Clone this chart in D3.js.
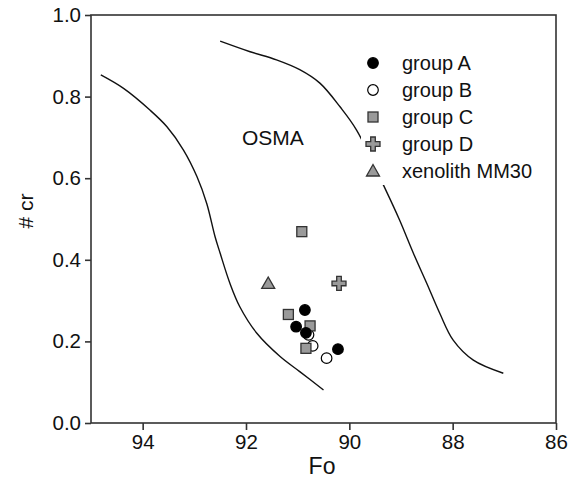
<!DOCTYPE html>
<html><head><meta charset="utf-8">
<script src="https://cdn.jsdelivr.net/npm/d3@7"></script>
<style>body{margin:0;background:#fff}svg{display:block;font-family:"Liberation Sans",Arial,Helvetica,sans-serif}</style>
</head><body><svg id="c" width="569" height="479"></svg>
<script>
// Data
const xTicks = [94, 92, 90, 88, 86];
const yTicks = [0, 0.2, 0.4, 0.6, 0.8, 1.0];
const groupA = [[90.86,0.277],[91.03,0.236],[90.84,0.221],[90.22,0.181]];
const groupB = [[90.79,0.216],[90.71,0.189],[90.44,0.159]];
const groupC = [[91.18,0.266],[90.76,0.238],[90.84,0.183],[90.92,0.469]];
const groupD = [[90.20,0.342]];
const xenolith = [[91.57,0.342]];
const curveLeft = [[94.81,0.853],[94.37,0.820],[93.86,0.767],[93.53,0.726],[93.21,0.669],[92.95,0.604],[92.76,0.538],[92.60,0.457],[92.50,0.416],[92.31,0.342],[92.12,0.285],[91.79,0.220],[91.34,0.163],[90.96,0.126],[90.50,0.081]];
const curveRight = [[92.50,0.936],[91.92,0.910],[91.41,0.890],[90.96,0.866],[90.57,0.833],[90.18,0.775],[89.86,0.718],[89.28,0.567],[89.03,0.498],[88.76,0.416],[88.50,0.342],[88.25,0.269],[87.99,0.203],[87.60,0.154],[87.02,0.122]];
const legendLabels = ["group A","group B","group C","group D","xenolith MM30"];

const svg = d3.select("#c");
const L=91, R=556, T=15, B=423;
const x = d3.scaleLinear().domain([95,86]).range([L,R]);
const y = d3.scaleLinear().domain([0,1]).range([B,T]);

// curves
const line = d3.line().x(d=>x(d[0])).y(d=>y(d[1])).curve(d3.curveCatmullRom.alpha(0.5));
[curveLeft, curveRight].forEach(c=>{
  svg.append("path").attr("d", line(c)).attr("fill","none").attr("stroke","#111").attr("stroke-width",1.4);
});

// OSMA label
svg.append("text").attr("x", x(91.48)).attr("y", y(0.682)).attr("text-anchor","middle")
  .attr("font-size",21).attr("fill","#111").text("OSMA");

// markers
const gray = "#9a9a9a";
function circle(g, pts, fill){
  g.selectAll(null).data(pts).join("circle").attr("cx",d=>x(d[0])).attr("cy",d=>y(d[1]))
   .attr("r",5.3).attr("fill",fill).attr("stroke","#000").attr("stroke-width",1.2);
}
function square(g, pts){
  g.selectAll(null).data(pts).join("rect").attr("x",d=>x(d[0])-5).attr("y",d=>y(d[1])-5)
   .attr("width",10).attr("height",10).attr("fill",gray).attr("stroke","#333").attr("stroke-width",1.3);
}
const plusPath = "M-2.3,-7 H2.3 V-2.3 H7 V2.3 H2.3 V7 H-2.3 V2.3 H-7 V-2.3 H-2.3 Z";
function plus(g, pts){
  g.selectAll(null).data(pts).join("path").attr("d",plusPath)
   .attr("transform",d=>`translate(${x(d[0])},${y(d[1])})`)
   .attr("fill",gray).attr("stroke","#333").attr("stroke-width",1.3);
}
const triPath = "M0,-6.5 L6.5,5 L-6.5,5 Z";
function tri(g, pts){
  g.selectAll(null).data(pts).join("path").attr("d",triPath)
   .attr("transform",d=>`translate(${x(d[0])},${y(d[1])})`)
   .attr("fill",gray).attr("stroke","#333").attr("stroke-width",1.3);
}
const gm = svg.append("g");
circle(gm, groupB, "#fff");
square(gm, groupC);
circle(gm, groupA, "#000");
plus(gm, groupD);
tri(gm, xenolith);

// legend (white background hides the curve)
const lg = svg.append("g");
lg.append("rect").attr("x",361).attr("y",48).attr("width",185).attr("height",137).attr("fill","#fff");
const ly0 = 63, ldy = 27, lmx = 373, ltx = 402;
legendLabels.forEach((lab,i)=>{
  const cy = ly0 + i*ldy;
  const p = [[x.invert(lmx), y.invert(cy)]];
  if(i===0) circle(lg, p, "#000");
  if(i===1) circle(lg, p, "#fff");
  if(i===2) square(lg, p);
  if(i===3) plus(lg, p);
  if(i===4) tri(lg, p);
  lg.append("text").attr("x",ltx).attr("y",cy+7).attr("font-size",20).attr("fill","#111").text(lab);
});

// frame
svg.append("rect").attr("x",L).attr("y",T).attr("width",R-L).attr("height",B-T)
  .attr("fill","none").attr("stroke","#333").attr("stroke-width",1.6);

// axes
const xa = svg.append("g").attr("transform",`translate(0,${B})`)
  .call(d3.axisBottom(x).tickValues(xTicks).tickSize(7).tickPadding(4).tickFormat(d3.format("d")));
const ya = svg.append("g").attr("transform",`translate(${L},0)`)
  .call(d3.axisLeft(y).tickValues(yTicks).tickSize(6).tickPadding(4).tickFormat(d3.format(".1f")));
[xa,ya].forEach(a=>{
  a.select(".domain").remove();
  a.selectAll(".tick line").attr("stroke","#333").attr("stroke-width",1.6);
  a.selectAll(".tick text").attr("font-size",20.5).attr("fill","#111").attr("font-family","Liberation Sans, Arial, sans-serif");
});

// axis titles
svg.append("text").attr("x",322).attr("y",474).attr("text-anchor","middle").attr("font-size",23).attr("fill","#111").text("Fo");
svg.append("text").attr("transform","translate(33,211) rotate(-90)").attr("text-anchor","middle")
  .attr("font-size",21).attr("fill","#111").text("# cr");
</script></body></html>
